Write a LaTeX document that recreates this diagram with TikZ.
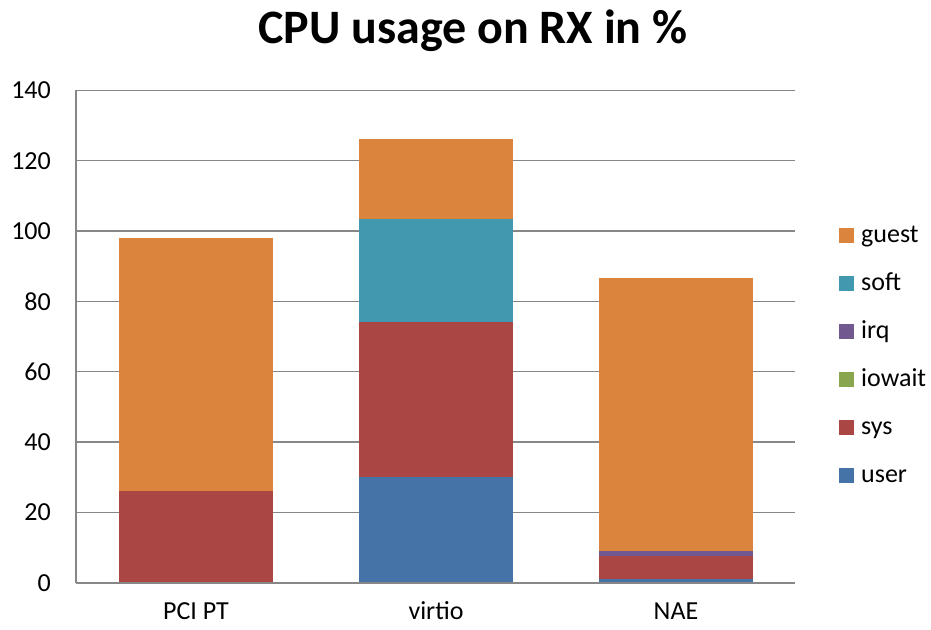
\documentclass[tikz,border=0pt]{standalone}
\usepackage{fontspec}
\setmainfont{Carlito}
\definecolor{cguest}{HTML}{DB843D}
\definecolor{csoft}{HTML}{4198AF}
\definecolor{cirq}{HTML}{71588F}
\definecolor{ciowait}{HTML}{89A54E}
\definecolor{csys}{HTML}{AA4643}
\definecolor{cuser}{HTML}{4572A7}
\definecolor{cgrid}{HTML}{878787}
\begin{document}
\begin{tikzpicture}[x=1pt,y=-1pt,
  grid/.style={draw=cgrid,line width=1.6pt},
  ticklab/.style={anchor=east,font=\fontsize{26}{30}\selectfont,inner sep=0pt},
  catlab/.style={anchor=center,font=\fontsize{26}{30}\selectfont,inner sep=0pt},
  leglab/.style={anchor=base west,font=\fontsize{26}{30}\selectfont,inner sep=0pt},
  legbox/.style={minimum width=15pt,minimum height=15pt,inner sep=0pt,draw=none}]
\useasboundingbox (0,0) rectangle (931,629);
\fill[white] (0,0) rectangle (931,629);
% y value -> pixel: 582.7 - 3.517*v
\def\yv#1{582.7-3.517*#1}
% gridlines
\foreach \v/\n in {0/0,20/20,40/40,60/60,80/80,100/100,120/120,140/140}{
  \draw[grid] (76,{\yv{\v}}) -- (795,{\yv{\v}});
  \node[ticklab] (t\n) at (51,{\yv{\v}}) {\v};
}
\draw[grid] (76,{\yv{0}}) -- (76,{\yv{140}});
% bars
\newcommand\barseg[4]{\fill[#1] (#2,{\yv{#3}}) rectangle ++(154,{-3.517*(#4-#3)});}
% PCI PT
\barseg{csys}{119}{0}{26.2}
\barseg{cguest}{119}{26.2}{98.0}
% virtio
\barseg{cuser}{359}{0}{30.1}
\barseg{csys}{359}{30.1}{74.1}
\barseg{csoft}{359}{74.1}{103.3}
\barseg{cguest}{359}{103.3}{126.2}
% NAE
\barseg{cuser}{599}{0}{1.0}
\barseg{csys}{599}{1.0}{7.5}
\barseg{cirq}{599}{7.5}{8.9}
\barseg{cguest}{599}{8.9}{86.6}
\draw[grid] (76,{\yv{0}}) -- (795,{\yv{0}});
% category labels
\node[catlab] (c1) at (196,611) {PCI PT};
\node[catlab] (c2) at (436,611) {virtio};
\node[catlab] (c3) at (676,611) {NAE};
% title
\node[font=\fontsize{48}{56}\selectfont\bfseries,inner sep=0pt] (title) at (473,31) {CPU usage on RX in \%};
% legend
\foreach \c/\l/\y in {cguest/guest/235.5,csoft/soft/283.5,cirq/irq/331.5,ciowait/iowait/379.5,csys/sys/427.5,cuser/user/475}{
  \node[legbox,fill=\c] (b\l) at (846.5,\y) {};
  \node[leglab] (l\l) at (861,\y+7) {\l};
}
\end{tikzpicture}
\end{document}
